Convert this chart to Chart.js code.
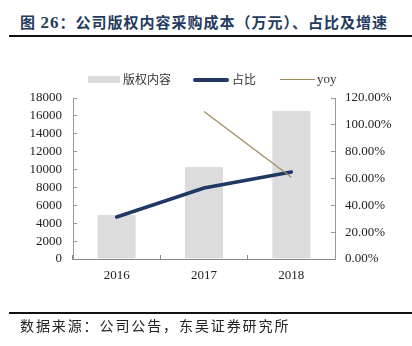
<!DOCTYPE html>
<html>
<head>
<meta charset="utf-8">
<script src="https://cdn.jsdelivr.net/npm/chart.js@4.4.1/dist/chart.umd.min.js"></script>
<style>
  html, body { margin: 0; padding: 0; background: #fff; }
  #wrap { position: relative; width: 412px; height: 346px; overflow: hidden; }
  #chart { position: absolute; left: 0; top: 0; }
  .title { position: absolute; left: 20px; top: 11px; font: bold 15px "Noto Sans CJK SC", sans-serif; color: #243a5e; letter-spacing: 1px; white-space: nowrap; }
  .title .num { font-family: "Liberation Serif", serif; font-size: 17px; }
  .rule { position: absolute; left: 9px; right: 0; height: 2px; background: #111; }
  .source { position: absolute; left: 20px; top: 315px; font: 14px "Noto Sans CJK SC", sans-serif; color: #222; letter-spacing: 1.9px; white-space: nowrap; }
  .legend { position: absolute; top: 71px; height: 16px; font: 12px "Noto Sans CJK SC", sans-serif; color: #333; white-space: nowrap; }
  .legend span { position: absolute; top: 0; line-height: 16px; }
  .swatch { position: absolute; }
</style>
</head>
<body>
<div id="wrap">
  <div class="title">图 <span class="num">26</span>：公司版权内容采购成本（万元）、占比及增速</div>
  <div class="rule" style="top:35px"></div>
  <canvas id="chart" width="412" height="346"></canvas>
  <div class="legend" id="legend"></div>
  <div class="rule" style="top:312px"></div>
  <div class="source">数据来源：公司公告，东吴证券研究所</div>
</div>
<script>
const years = ["2016", "2017", "2018"];
const copyrightCost = [4920, 10280, 16540];   // 万元, left axis
const shareRatio = [31.3, 52.9, 64.8];        // %, right axis
const yoyGrowth = [null, 110.0, 61.0];        // %, right axis
const seriesNames = ["版权内容", "占比", "yoy"];

const barColor = "#dcdcdc";
const shareColor = "#1f3864";
const yoyColor = "#9c8c5a";

// html legend
const legend = document.getElementById("legend");
legend.innerHTML =
  '<div class="swatch" style="left:88px;top:5px;width:32px;height:7px;background:' + barColor + '"></div>' +
  '<span style="left:123px">' + seriesNames[0] + '</span>' +
  '<div class="swatch" style="left:193px;top:7px;width:36px;height:3.5px;border-radius:2px;background:' + shareColor + '"></div>' +
  '<span style="left:232px">' + seriesNames[1] + '</span>' +
  '<div class="swatch" style="left:280px;top:8px;width:35px;height:1.2px;background:' + yoyColor + '"></div>' +
  '<span style="left:317px;font-family:\'Liberation Serif\',serif;font-size:13px">' + seriesNames[2] + '</span>';

const tickFont = { family: "Liberation Serif", size: 13 };

new Chart(document.getElementById("chart"), {
  data: {
    labels: years,
    datasets: [
      {
        type: "bar",
        label: seriesNames[0],
        data: copyrightCost,
        backgroundColor: barColor,
        yAxisID: "y",
        barPercentage: 0.435,
        categoryPercentage: 1,
        order: 2
      },
      {
        type: "line",
        label: seriesNames[1],
        data: shareRatio,
        borderColor: shareColor,
        borderWidth: 3.5,
        borderCapStyle: "round",
        pointRadius: 0,
        yAxisID: "y1",
        order: 1
      },
      {
        type: "line",
        label: seriesNames[2],
        data: yoyGrowth,
        borderColor: yoyColor,
        borderWidth: 1.2,
        pointRadius: 0,
        yAxisID: "y1",
        order: 0
      }
    ]
  },
  options: {
    responsive: false,
    animation: false,
    layout: { padding: { top: 98, left: 0, right: 0, bottom: 0 } },
    plugins: { legend: { display: false }, tooltip: { enabled: false } },
    scales: {
      x: {
        offset: true,
        grid: { offset: true, drawOnChartArea: false, drawTicks: true, tickLength: -4, color: "#888" },
        border: { color: "#888" },
        ticks: { font: tickFont, color: "#222", padding: 13 },
        afterFit: s => { s.height = 87; }
      },
      y: {
        position: "left",
        min: 0,
        max: 18000,
        grid: { drawOnChartArea: false, drawTicks: true, tickLength: -4, color: "#999" },
        border: { color: "#999" },
        ticks: { stepSize: 2000, autoSkip: false, font: tickFont, color: "#222", padding: 15, callback: v => String(v) },
        afterFit: s => { s.width = 73; }
      },
      y1: {
        position: "right",
        min: 0,
        max: 120,
        grid: { drawOnChartArea: false, drawTicks: true, tickLength: -4, color: "#999" },
        border: { color: "#999" },
        ticks: { stepSize: 20, autoSkip: false, font: tickFont, color: "#222", padding: 14, callback: v => v.toFixed(2) + "%" },
        afterFit: s => { s.width = 77; }
      }
    }
  }
});
</script>
</body>
</html>
